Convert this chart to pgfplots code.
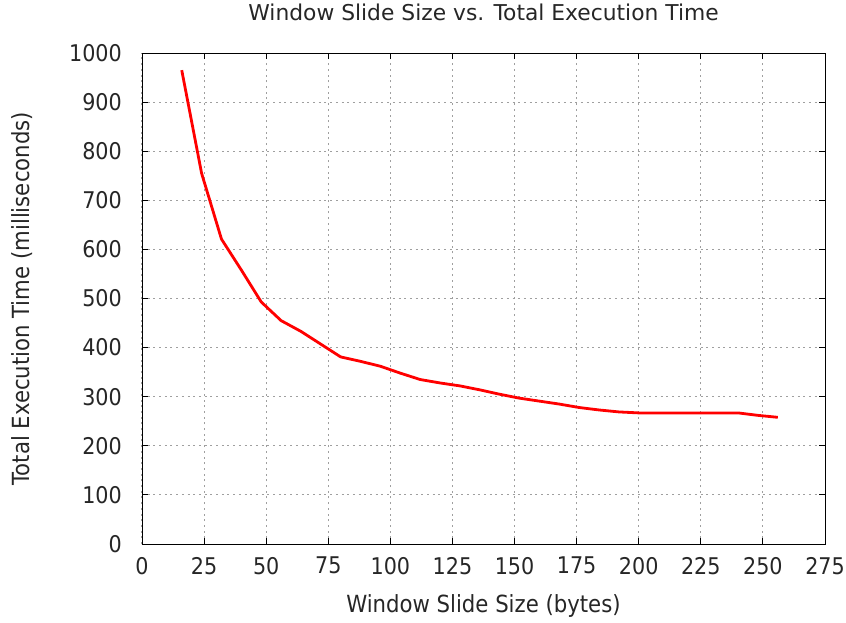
\documentclass[border=0pt]{standalone}
\usepackage{fontspec}
\setmainfont{DejaVu Sans Condensed}
\newfontfamily\titlefont{DejaVu Sans}
\usepackage{pgfplots}
\pgfplotsset{compat=1.18}
\begin{document}
\begin{tikzpicture}[x=1pt,y=1pt]
\path[use as bounding box] (-142,-78) rectangle (704,544);
\begin{axis}[
  at={(0,0)}, anchor=origin,
  scale only axis, width=683pt, height=491pt,
  xmin=0, xmax=275, ymin=0, ymax=1000,
  xtick={0,25,...,275}, ytick={0,100,...,1000},
  tick align=inside, major tick length=6pt,
  xtick pos=both, ytick pos=both,
  grid=major, major grid style={gray!75, line width=1pt, dash pattern=on 2pt off 3.7pt},
  axis line style={black, line width=0.9pt},
  tick style={black, line width=0.9pt},
  /pgf/number format/assume math mode=true,
  /pgf/number format/1000 sep={},
  tick label style={font=\fontsize{23}{23}\selectfont, text=black!85, inner sep=0pt},
  yticklabel style={anchor=east, xshift=-20pt},
  xticklabel style={anchor=north, yshift=-13pt},
  title={Window Slide Size vs. Total Execution Time},
  title style={font=\titlefont\fontsize{21.8}{21.8}\selectfont, text=black!85, at={(axis description cs:0.5,1.0713)}, anchor=center},
  xlabel={Window Slide Size (bytes)},
  ylabel={Total Execution Time (milliseconds)},
  label style={font=\fontsize{23.6}{23.6}\selectfont, text=black!85},
  xlabel style={at={(axis description cs:0.5,-0.1263)}, anchor=center},
  ylabel style={at={(axis description cs:-0.1757,0.5)}, anchor=center},
]
\addplot[red, line width=2.8pt, line join=round] coordinates {
(16,965) (24,755) (32,621) (40,558) (48,493) (56,455) (64,433) (72,407)
(80,381) (88,372) (96,362) (104,348) (112,335) (120,328) (128,322) (136,314)
(144,305) (152,297) (160,291) (168,285) (176,278) (184,273) (192,269) (200,267)
(208,267) (216,267) (224,267) (232,267) (240,267) (248,262) (256,258)
};
\end{axis}
\end{tikzpicture}
\end{document}
